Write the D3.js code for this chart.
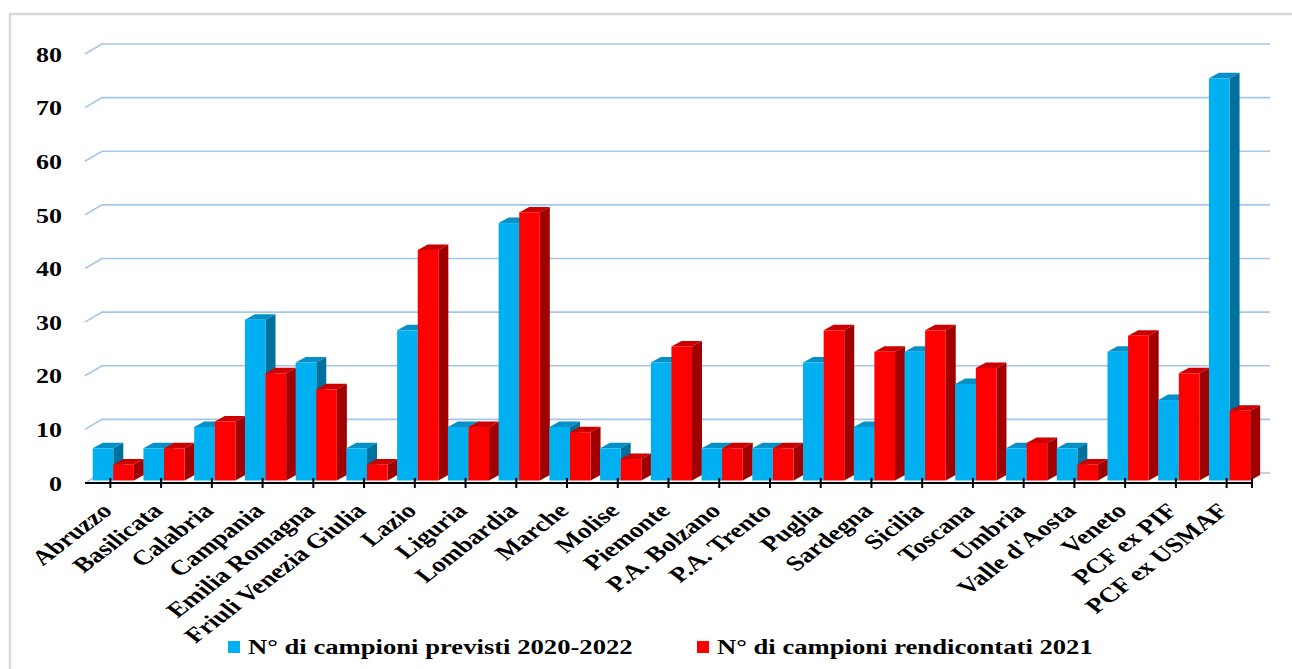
<!DOCTYPE html>
<html>
<head>
<meta charset="utf-8">
<script src="https://cdn.jsdelivr.net/npm/d3@7"></script>
<style>
  body { margin: 0; background: #fff; }
  text { font-family: "Liberation Serif", "Times New Roman", serif; font-weight: bold; }
</style>
</head>
<body>
<svg></svg>
<script>
const size = {w: 1292, h: 669};
const svg = d3.select('svg').attr('width', size.w).attr('height', size.h);

const regioni = ['Abruzzo', 'Basilicata', 'Calabria', 'Campania', 'Emilia Romagna',
    'Friuli Venezia Giulia', 'Lazio', 'Liguria', 'Lombardia', 'Marche', 'Molise',
    'Piemonte', 'P.A. Bolzano', 'P.A. Trento', 'Puglia', 'Sardegna', 'Sicilia',
    'Toscana', 'Umbria', "Valle d'Aosta", 'Veneto', 'PCF ex PIF', 'PCF ex USMAF'];
const previsti = [6, 6, 10, 30, 22, 6, 28, 10, 48, 10, 6, 22, 6, 6, 22, 10, 24, 18, 6, 6, 24, 15, 75];
const rendicontati = [3, 6, 11, 20, 17, 3, 43, 10, 50, 9, 4, 25, 6, 6, 28, 24, 28, 21, 7, 3, 27, 20, 13];
const yTicks = [0, 10, 20, 30, 40, 50, 60, 70, 80];
const serie = [
    {name: 'N° di campioni previsti 2020-2022', front: '#00b0f0', side: '#00709c', top: '#0590c8'},
    {name: 'N° di campioni rendicontati 2021', front: '#ff0000', side: '#a00000', top: '#cc0000'}
];

// the source picture is a bit wider than tall, text looks stretched
const stretch = 1.3;

// frame
svg.append('rect')
    .attr('x', 10).attr('y', 14)
    .attr('width', 1300).attr('height', 700)
    .attr('fill', 'none')
    .attr('stroke', '#d9d9d9')
    .attr('stroke-width', 2.5);

const x = d3.scaleBand().domain(regioni).range([85, 1252]);
const y = d3.scaleLinear().domain([0, 80]).range([483, 54]);
const wall = {dx: 17, dy: -10};
const bar = {dx: 10, dy: -5.5, off: 7.7, w: 20.6, lift: 2.5};

// gridlines (3D wall)
svg.append('g').selectAll('path')
    .data(yTicks)
    .enter()
    .append('path')
    .attr('d', d => 'M85,' + y(d) + 'L' + (85 + wall.dx) + ',' + (y(d) + wall.dy) + 'L1270,' + (y(d) + wall.dy))
    .attr('fill', 'none')
    .attr('stroke', '#a4c6ea')
    .attr('stroke-width', 1.6);

// y labels
svg.append('g').selectAll('text')
    .data(yTicks)
    .enter()
    .append('text')
    .attr('transform', d => 'translate(62,' + y(d) + ') scale(1.18,1)')
    .attr('dy', '0.35em')
    .attr('text-anchor', 'end')
    .style('font-size', '22px')
    .text(d => d);

// bars
const barsG = svg.append('g');
regioni.forEach(function (r, i) {
    [previsti[i], rendicontati[i]].forEach(function (v, s) {
        let x0 = x(r) + bar.off + s * bar.w,
            x1 = x0 + bar.w,
            yb = y(0) - bar.lift,
            yt = y(v) - bar.lift,
            c = serie[s];
        let g = barsG.append('g');
        g.append('polygon')
            .attr('points', [[x0, yt], [x0 + bar.dx, yt + bar.dy], [x1 + bar.dx, yt + bar.dy], [x1, yt]].join(' '))
            .attr('fill', c.top);
        g.append('polygon')
            .attr('points', [[x1, yt], [x1 + bar.dx, yt + bar.dy], [x1 + bar.dx, yb + bar.dy], [x1, yb]].join(' '))
            .attr('fill', c.side);
        g.append('rect')
            .attr('x', x0).attr('y', yt)
            .attr('width', bar.w).attr('height', yb - yt)
            .attr('fill', c.front);
    });
});

// x axis
const axisG = svg.append('g');
axisG.append('line')
    .attr('x1', 85).attr('x2', 1252)
    .attr('y1', y(0)).attr('y2', y(0))
    .attr('stroke', '#000').attr('stroke-width', 2);
axisG.selectAll('.tick')
    .data(regioni.map(r => x(r) + x.bandwidth() / 2).concat([1252]))
    .enter()
    .append('line')
    .attr('x1', d => d).attr('x2', d => d)
    .attr('y1', y(0) - 5).attr('y2', y(0) + 5)
    .attr('stroke', '#000').attr('stroke-width', 2);

axisG.selectAll('.lab')
    .data(regioni)
    .enter()
    .append('text')
    .attr('text-anchor', 'end')
    .attr('transform', d => 'translate(' + (x(d) + x.bandwidth() / 2 + 3) + ',512) scale(' + stretch + ',1) rotate(-45)')
    .style('font-size', '21px')
    .text(d => d);

// legend
const legend = svg.append('g');
const legX = [228, 697];
serie.forEach(function (c, s) {
    legend.append('rect')
        .attr('x', legX[s]).attr('y', 641)
        .attr('width', 12).attr('height', 12)
        .attr('fill', c.front);
    legend.append('text')
        .attr('transform', 'translate(' + (legX[s] + 20) + ',654) scale(' + stretch + ',1)')
        .style('font-size', '20.5px')
        .text(c.name);
});
</script>
</body>
</html>
